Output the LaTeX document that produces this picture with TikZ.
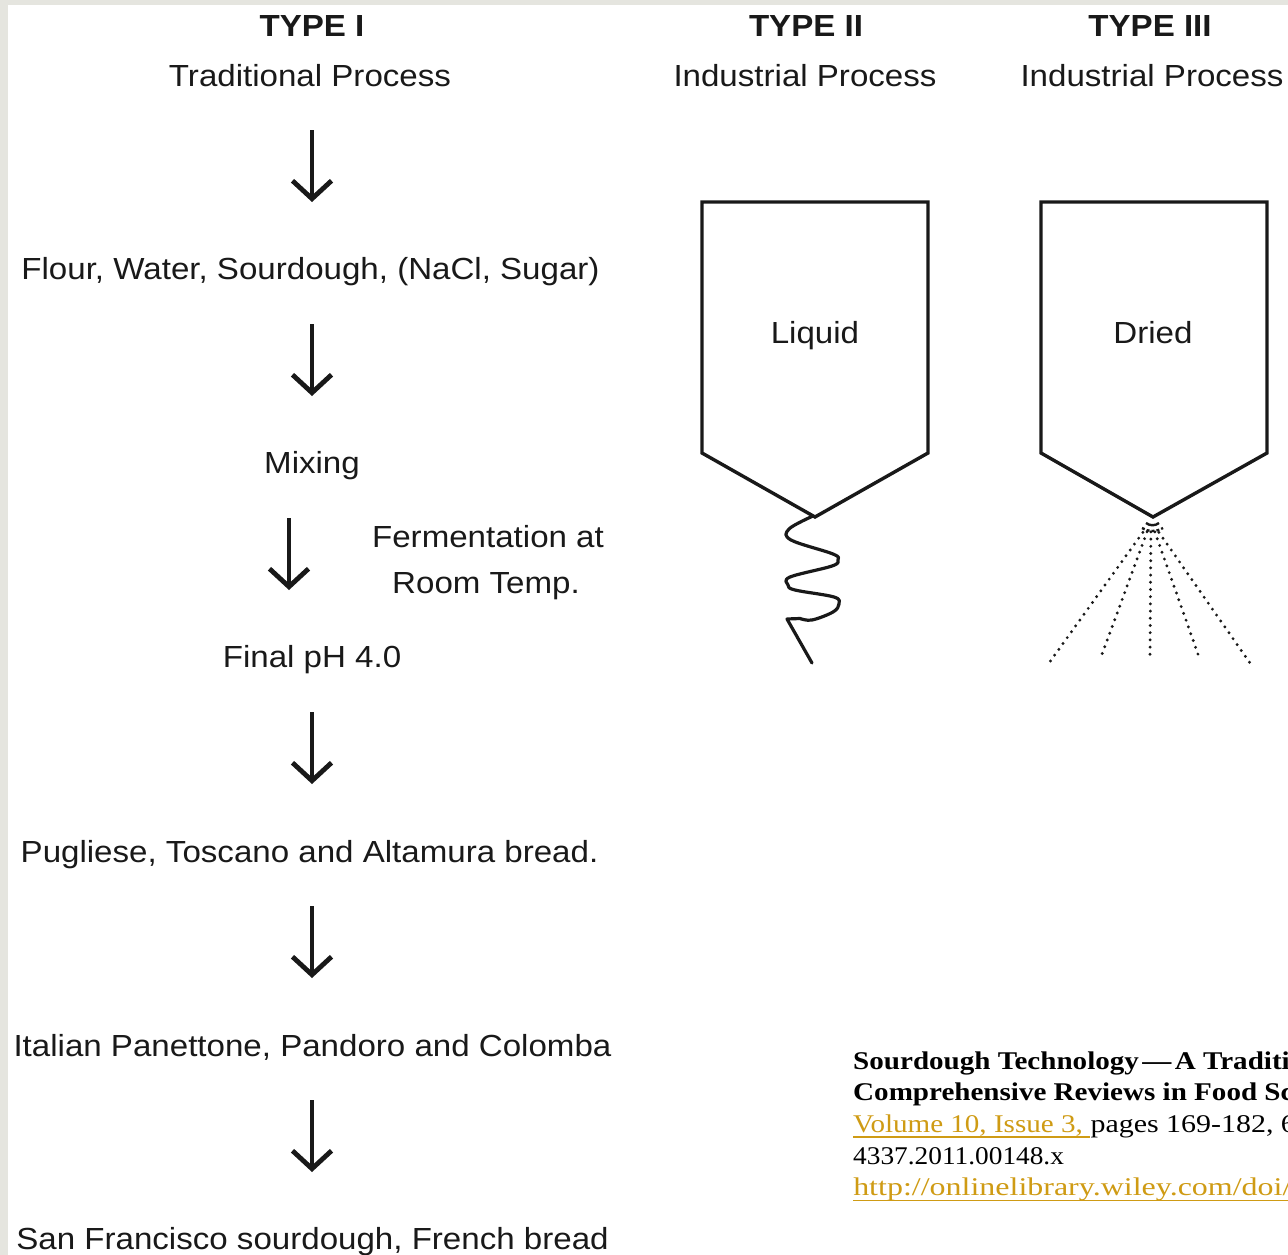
\documentclass[tikz,border=0pt]{standalone}
\usepackage{fontspec}
\setmainfont{Liberation Sans}
\newfontfamily\citefont{Liberation Serif}
\usetikzlibrary{arrows.meta,calc}
\definecolor{ink}{RGB}{25,25,25}
\definecolor{strip}{RGB}{229,229,223}
\definecolor{gold}{RGB}{207,155,20}
\begin{document}
\begin{tikzpicture}[x=1pt,y=-1pt,
  lbl/.style={inner sep=0pt, anchor=base, text=ink, xscale=1.085,
    font=\fontsize{30.5}{36}\selectfont},
  hdr/.style={lbl, font=\fontsize{30.5}{36}\selectfont\bfseries},
  cite/.style={inner sep=0pt, anchor=base west, text=black, xscale=1.14,
    font=\citefont\fontsize{25.5}{30}\selectfont},
  citeb/.style={cite, font=\citefont\bfseries\fontsize{25.5}{30}\selectfont},
  flow/.style={draw=ink, line width=3.6pt,
    -{Straight Barb[length=18pt,width=39pt,line width=4.8pt]}},
  tank/.style={draw=ink, line width=3.4pt, line join=miter},
  spray/.style={draw=ink, line width=3.2pt, line cap=round,
    dash pattern=on 0pt off 7.2pt},
  ulink/.style={draw=gold, line width=1.8pt}]
\useasboundingbox (0,0) rectangle (1288,1255);
\clip (0,0) rectangle (1288,1255);
\fill[white] (0,0) rectangle (1288,1255);
\fill[strip] (0,0) rectangle (1288,5);
\fill[strip] (0,0) rectangle (8,1255);

% headers
\node[hdr] (t1) at (312,37) {TYPE I};
\node[lbl] (p1) at (310,87) {Traditional Process};
\node[hdr] (t2) at (806,37) {TYPE II};
\node[lbl] (p2) at (805,87) {Industrial Process};
\node[hdr] (t3) at (1150,37) {TYPE III};
\node[lbl] (p3) at (1152,87) {Industrial Process};

% type I flow
\node[lbl] (flour) at (310.5,279) {Flour, Water, Sourdough, (NaCl, Sugar)};
\node[lbl] (mix) at (312,473) {Mixing};
\node[lbl] (ferm) at (488,547) {Fermentation at};
\node[lbl] (room) at (486,593) {Room Temp.};
\node[lbl] (ph) at (312,667) {Final pH 4.0};
\node[lbl] (pug) at (309.5,862) {Pugliese, Toscano and Altamura bread.};
\node[lbl] (ital) at (312.5,1056) {Italian Panettone, Pandoro and Colomba};
\node[lbl] (sf) at (312.5,1249) {San Francisco sourdough, French bread};

\coordinate (a1s) at (312,130);  \coordinate (a1e) at (312,202);
\coordinate (a2s) at (312,324);  \coordinate (a2e) at (312,396);
\coordinate (a3s) at (289,518);  \coordinate (a3e) at (289,590);
\coordinate (a4s) at (312,712);  \coordinate (a4e) at (312,784);
\coordinate (a5s) at (312,906);  \coordinate (a5e) at (312,978);
\coordinate (a6s) at (312,1100); \coordinate (a6e) at (312,1172);
\foreach \i in {1,...,6} \draw[flow] (a\i s) -- (a\i e);

% type II tank
\draw[tank] (702,202) -- (928,202) -- (928,453) -- (815,517) -- (702,453) -- cycle;
\node[lbl] (liq) at (815,343) {Liquid};
\draw[draw=ink, line width=3.2pt, line cap=round, line join=round]
  plot[smooth, tension=0.6] coordinates {(813,516) (789,529) (791,540) (833,554) (838,560) (832,566) (790,577) (788,585) (795,590) (834,597) (839,604) (833,612) (812,620) (800,618.5)}
  -- (787,619) -- (812,663);

% type III tank
\draw[tank] (1041,202) -- (1267,202) -- (1267,453) -- (1153,517) -- (1041,453) -- cycle;
\node[lbl] (dry) at (1153,343) {Dried};
\coordinate (nz) at (1151,521);
\draw[draw=ink, line width=2.4pt] (1146,523) .. controls (1150,526) and (1155,526) .. (1159,523);
\draw[draw=ink, line width=2.4pt, dash pattern=on 3pt off 2pt] (1142,528) .. controls (1148,532) and (1156,532) .. (1163,528);
\foreach \ex/\ey/\n in {1049/663/1, 1101/657/2, 1150/657/3, 1199/657/4, 1250/663/5} {
  \coordinate (sp\n) at (\ex,\ey);
  \draw[spray] ($(nz)!0.08!(sp\n)$) -- (sp\n);
}

% citation
\node[citeb] (c1) at (853,1069) {Sourdough Technology\kern3pt—\kern3pt A Traditional Way for Wholesome Foods};
\node[citeb] (c2) at (853,1100) {Comprehensive Reviews in Food Science and Food Safety};
\node[cite, text=gold] (c3a) at (853,1132) {Volume 10, Issue 3,\ \null};
\node[cite, xscale=1.03] (c3b) at (c3a.base east) {pages 169-182, 6 APR 2011 DOI: 10.1111/j.1541-};
\node[cite, xscale=0.94] (c4) at (853,1164) {4337.2011.00148.x};
\node[cite, text=gold, xscale=1.1] (c5) at (853,1195) {http://onlinelibrary.wiley.com/doi/10.1111/j.1541-4337.2011.00148.x};
\draw[ulink] ([yshift=-5pt]c3a.base west) -- ([yshift=-5pt]c3a.base east);
\draw[ulink] ([yshift=-5.5pt]c5.base west) -- ([yshift=-5.5pt]c5.base east);
\end{tikzpicture}
\end{document}
